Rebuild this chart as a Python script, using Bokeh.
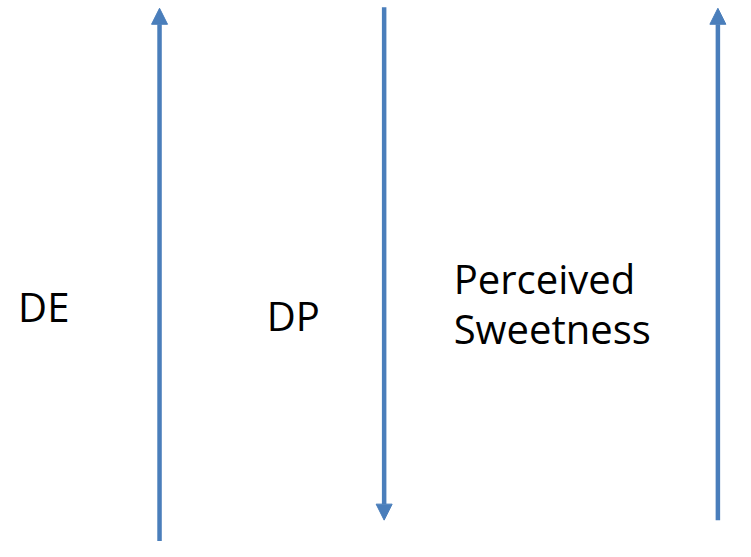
from bokeh.plotting import figure
from bokeh.models import Range1d, Arrow, NormalHead, ColumnDataSource
from bokeh.core.properties import value
from bokeh.embed import file_html
from bokeh.resources import INLINE

# Arrow data (reference pixel coordinates, y grows downward)
arrow_x = [162.5, 392, 733]
arrow_y_start = [560, 7, 535]
arrow_y_end = [8, 535, 8]

# Text labels
label_text = ["DE", "DP", "Perceived", "Sweetness"]
label_x = [18, 272, 463, 463]
label_y = [315, 324, 286, 338]

W, H = 735, 541
p = figure(width=W, height=H, output_backend="svg", toolbar_location=None,
           x_range=Range1d(0, 751), y_range=Range1d(557, 0),
           min_border=0)
p.axis.visible = False
p.grid.visible = False
p.outline_line_color = None
p.background_fill_color = "white"
p.border_fill_color = "white"

color = "#4a7ebb"
for x, y0, y1 in zip(arrow_x, arrow_y_start, arrow_y_end):
    p.add_layout(Arrow(x_start=x, y_start=y0, x_end=x, y_end=y1,
                       line_color=color, line_width=4.5,
                       end=NormalHead(size=16, fill_color=color, line_color=color, line_width=1)))

src = ColumnDataSource(dict(x=label_x, y=label_y, t=label_text))
p.text(x="x", y="y", text="t", source=src, text_font=value("Open Sans"),
       text_font_size="40px", text_baseline="alphabetic", text_align="left",
       text_color="#000000")

open("out.html", "w").write(file_html(p, INLINE))
